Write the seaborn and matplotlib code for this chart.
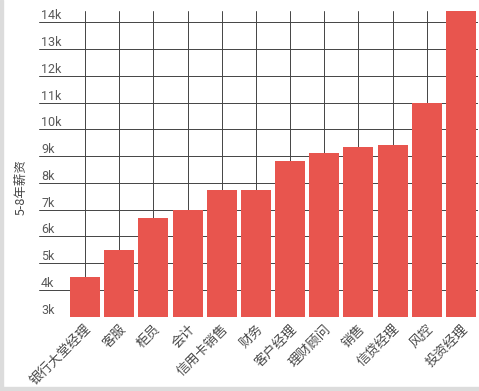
import matplotlib
matplotlib.use("Agg")
import matplotlib.pyplot as plt
import seaborn as sns
import pandas as pd
from matplotlib.patches import Rectangle

categories = ["银行大堂经理", "客服", "柜员", "会计", "信用卡销售", "财务",
              "客户经理", "理财顾问", "销售", "信贷经理", "风控", "投资经理"]
salaries = [4500, 5500, 6700, 7000, 7750, 7750, 8800, 9100, 9350, 9400, 11000, 14450]
ytick_values = [3000, 4000, 5000, 6000, 7000, 8000, 9000, 10000, 11000, 12000, 13000, 14000]
ytick_labels = ["3k", "4k", "5k", "6k", "7k", "8k", "9k", "10k", "11k", "12k", "13k", "14k"]
y_title = "5-8年薪资"

sns.set_theme(style="white")
plt.rcParams["font.family"] = ["Roboto", "Noto Sans CJK SC", "DejaVu Sans"]

df = pd.DataFrame({"job": categories, "salary": salaries})

fig = plt.figure(figsize=(4.79, 3.91), dpi=100)
ax = fig.add_axes([39 / 479, (391 - 316.7) / 391, (478 - 39) / 479, (316.7 - 11) / 391])

sns.barplot(data=df, x="job", y="salary", color="#e8554e", saturation=1,
            width=0.88, ax=ax, zorder=3, edgecolor="none")

ax.set_xlim(-1.35, 11.5)
ax.set_ylim(3000, 14420)

ax.set_yticks(ytick_values)
ax.set_yticklabels(ytick_labels)
ax.tick_params(axis="y", length=0, pad=-1.5, labelsize=9, labelcolor="#5a5a5a")
for lab in ax.get_yticklabels():
    lab.set_horizontalalignment("left")
    lab.set_verticalalignment("bottom")

ax.tick_params(axis="x", length=0, pad=4, labelsize=9.5, labelcolor="#4a4a4a")
for lab in ax.get_xticklabels():
    lab.set_rotation(45)
    lab.set_horizontalalignment("right")
    lab.set_rotation_mode("anchor")
    lab.set_family(["Noto Sans CJK SC", "DejaVu Sans"])

ax.grid(True, axis="both", color="#444444", linewidth=0.7, zorder=0)
ax.set_axisbelow(True)
for s in ax.spines.values():
    s.set_visible(False)

ax.set_xlabel("")
ax.set_ylabel(y_title, fontsize=9, color="#444444", family=["Noto Sans CJK SC", "DejaVu Sans"])
ax.yaxis.set_label_coords(-0.027, 0.424)

# screenshot border
fig.patches.append(Rectangle((0, 0), 3 / 479, 1, transform=fig.transFigure,
                             color="#dcdcdc", zorder=0))
fig.patches.append(Rectangle((0, 0), 1, 4 / 391, transform=fig.transFigure,
                             color="#dcdcdc", zorder=0))

fig.savefig("out.png", dpi=100)
